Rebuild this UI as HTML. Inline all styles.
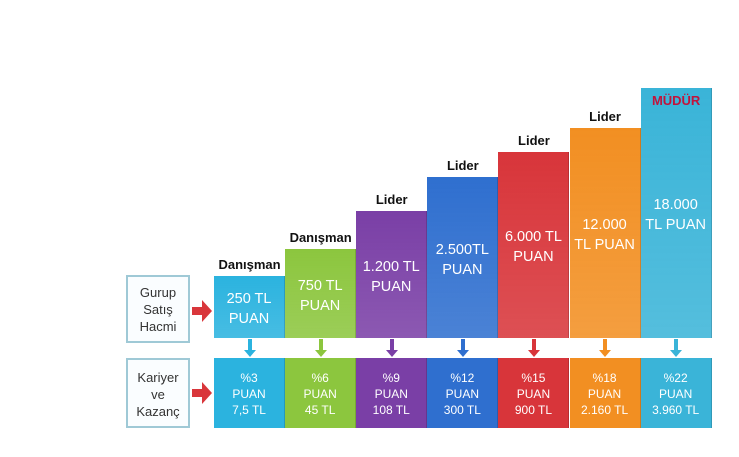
<!DOCTYPE html>
<html><head><meta charset="utf-8"><style>
body{margin:0;background:#fff;font-family:"Liberation Sans",sans-serif}
#c{position:relative;width:739px;height:457px;overflow:hidden;background:#fff}
.bar,.cell{position:absolute;color:#fff;text-align:center;box-sizing:border-box;border-right:1px solid rgba(0,0,0,.15)}
.bar{display:flex;align-items:center;justify-content:center}
.lbl{position:absolute;font-weight:bold;font-size:13px;text-align:center;color:#111}
.side{position:absolute;left:126px;width:64px;border:2px solid #9fc9d6;box-sizing:border-box;font-size:13px;text-align:center;color:#333;background:#fafdff;line-height:17px}
</style></head><body>
<div id="c">
<div class="side" style="top:275px;height:68px;padding-top:7px">Gurup<br>Satış<br>Hacmi</div>
<div class="side" style="top:358px;height:70px;padding-top:9px">Kariyer<br>ve<br>Kazanç</div>
<svg style="position:absolute;left:0;top:0" width="739" height="457">
<polygon points="192,307 202,307 202,300 212,311 202,322 202,315 192,315" fill="#d9363b"/>
<polygon points="192,389 202,389 202,382 212,393 202,404 202,397 192,397" fill="#d9363b"/>
</svg>
</div>
<script>
const titles=["Danışman","Danışman","Lider","Lider","Lider","Lider","MÜDÜR"];
const levels=[62,89,127,161,186,210,250];
const volumes=["250 TL<br>PUAN","750 TL<br>PUAN","1.200 TL<br>PUAN","2.500TL<br>PUAN","6.000 TL<br>PUAN","12.000<br>TL PUAN","18.000<br>TL PUAN"];
const earnings=["%3<br>PUAN<br>7,5 TL","%6<br>PUAN<br>45 TL","%9<br>PUAN<br>108 TL","%12<br>PUAN<br>300 TL","%15<br>PUAN<br>900 TL","%18<br>PUAN<br>2.160 TL","%22<br>PUAN<br>3.960 TL"];
const colors=["#2bb3df","#8cc63e","#7a3fa6","#2f6fcf","#d8353a","#f28f22","#3ab4d8"];
const c=document.getElementById('c');
const x0=214,w=71.1,base=338;
const ys=v=>base-v;
levels.forEach((v,i)=>{
 const x=x0+i*w,top=ys(v);
 const b=document.createElement('div');b.className='bar';
 
 
 b.style.cssText=`left:${x}px;top:${top}px;width:${w}px;height:${base-top}px;background:linear-gradient(${colors[i]},${colors[i]}dd);font-size:14.5px;line-height:20px;padding-top:4px`;
 b.innerHTML='<span>'+volumes[i]+'</span>';c.appendChild(b);
 const l=document.createElement('div');l.className='lbl';
 
 
 l.style.cssText=`left:${x}px;width:${w}px;top:${i==6?top+5:top-19}px;${i==6?'color:#c0143c;':''}`;
 l.textContent=titles[i];c.appendChild(l);
 const a=document.createElement('div');
 
 
 a.style.cssText=`position:absolute;left:${x+w/2-2}px;top:339px;width:4px;height:11px;background:${colors[i]}`;
 c.appendChild(a);
 const h=document.createElement('div');
 
 
 h.style.cssText=`position:absolute;left:${x+w/2-6}px;top:350px;border-left:6px solid transparent;border-right:6px solid transparent;border-top:7px solid ${colors[i]}`;
 c.appendChild(h);
 const e=document.createElement('div');e.className='cell';
 
 
 e.style.cssText=`left:${x}px;top:358px;width:${w}px;height:70px;background:${colors[i]};font-size:12px;line-height:16px;padding-top:12px`;
 e.innerHTML=earnings[i];c.appendChild(e);
});
</script>
</body></html>
